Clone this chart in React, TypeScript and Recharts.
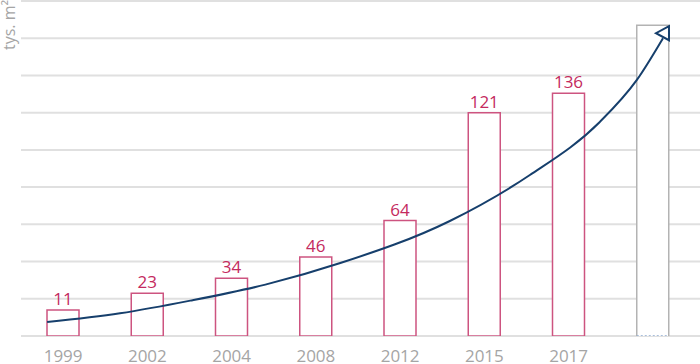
import React from 'react';
import { ComposedChart, Bar, Line, XAxis, YAxis, CartesianGrid, LabelList } from 'recharts';

const categories = ['1999', '2002', '2004', '2008', '2012', '2015', '2017', ''];
const barHeights = [14, 23, 31, 42.5, 62, 120, 130.5, 167];
const valueLabels = ['11', '23', '34', '46', '64', '121', '136', ''];
const yTicks = [0, 20, 40, 60, 80, 100, 120, 140, 160, 180];
const trendX = [-0.19, 0.675, 1.51, 2.4, 3.29, 4.59, 5.54, 6.37, 6.81, 7.12];
const trendY = [7.5, 12.2, 19, 27.6, 39.2, 61.8, 86.5, 115, 137.6, 160];

const NAVY = '#163f6c';
const PINK = '#cd5480';
const LABEL = '#c42a5e';
const GRAY_TEXT = '#a5a5a5';
const FONT = "'Open Sans', sans-serif";

const data = categories.map((c, i) => ({
  year: c,
  height: barHeights[i],
  label: valueLabels[i],
  forecast: i === categories.length - 1,
}));
const trendData = trendX.map((t, i) => ({ t, v: trendY[i] }));

const BarShape = (props: any) => {
  const { x, y, width, height } = props;
  const forecast = props.forecast ?? props.payload?.forecast;
  const side = forecast ? '#b3b3b3' : PINK;
  return (
    <g>
      <rect x={x} y={y} width={width} height={height} fill="#fff" stroke="none" />
      <path
        d={`M${x},${y + height} L${x},${y} L${x + width},${y} L${x + width},${y + height}`}
        fill="none"
        stroke={side}
        strokeWidth={1.5}
      />
      <line
        x1={x}
        x2={x + width}
        y1={y + height}
        y2={y + height}
        stroke={forecast ? '#8eaad0' : PINK}
        strokeWidth={1.5}
        strokeDasharray={forecast ? '2 2' : undefined}
      />
    </g>
  );
};

const renderArrow = (p: any) => {
  if (p.index !== trendX.length - 1) return <g key={`d${p.index}`} />;
  const { cx, cy } = p;
  return (
    <polygon
      key="arrow"
      points={`${cx + 6},${cy - 12} ${cx + 6},${cy + 2} ${cx - 7},${cy - 5}`}
      fill="#fff"
      stroke={NAVY}
      strokeWidth={2}
      strokeLinejoin="miter"
    />
  );
};

export default function App() {
  return (
    <div style={{ position: 'absolute', left: 0, top: 0, width: 700, height: 364, background: '#fff' }}>
      <ComposedChart
        width={700}
        height={364}
        data={data}
        margin={{ top: 1, right: 0, left: 21, bottom: 0 }}
      >
        <CartesianGrid vertical={false} stroke="#e0e0e0" strokeWidth={2} />
        <YAxis hide domain={[0, 180]} ticks={yTicks} allowDataOverflow />
        <XAxis
          dataKey="year"
          axisLine={false}
          tickLine={false}
          tickSize={0}
          tickMargin={14}
          height={28}
          interval={0}
          padding={{ left: 0, right: 5 }}
          tick={{ fill: GRAY_TEXT, fontSize: 17, fontFamily: FONT }}
        />
        <XAxis
          xAxisId="t"
          type="number"
          dataKey="t"
          domain={[-0.5, 7.5]}
          allowDataOverflow
          hide
          padding={{ left: 0, right: 5 }}
        />
        <Bar dataKey="height" barSize={32} shape={<BarShape />} isAnimationActive={false}>
          <LabelList
            dataKey="label"
            position="top"
            offset={5}
            fill={LABEL}
            style={{ fontSize: 17, fontFamily: FONT }}
          />
        </Bar>
        <Line
          data={trendData}
          xAxisId="t"
          dataKey="v"
          type="monotone"
          stroke={NAVY}
          strokeWidth={2}
          dot={renderArrow}
          activeDot={false}
          isAnimationActive={false}
        />
      </ComposedChart>
      <svg
        width={30}
        height={60}
        style={{ position: 'absolute', left: 0, top: 0, pointerEvents: 'none' }}
      >
        <text
          x={14.5}
          y={50}
          transform="rotate(-90 14.5 50)"
          fill={GRAY_TEXT}
          fontSize={16}
          fontFamily={FONT}
        >
          tys. m²
        </text>
      </svg>
    </div>
  );
}
